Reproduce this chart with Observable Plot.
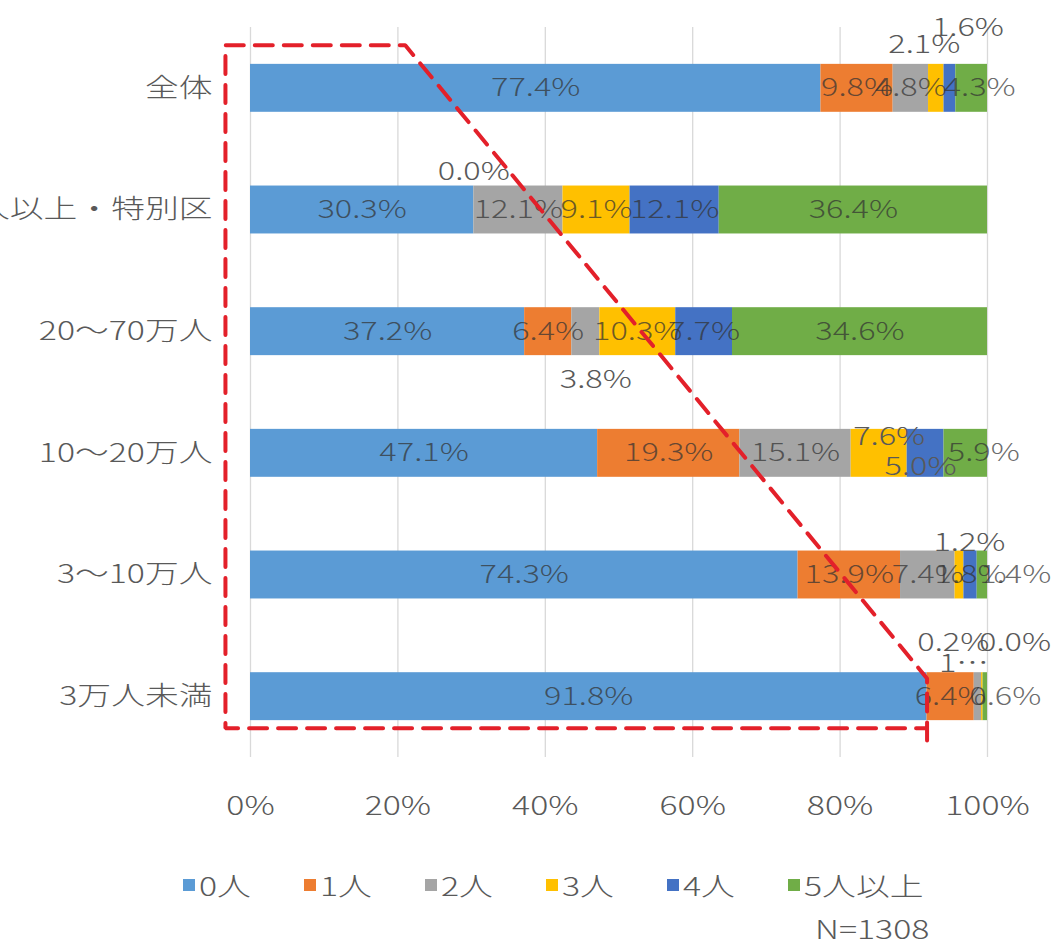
<!DOCTYPE html>
<html>
<head>
<meta charset="utf-8">
<script src="https://cdn.jsdelivr.net/npm/d3@7"></script>
<script src="https://cdn.jsdelivr.net/npm/@observablehq/plot@0.6"></script>
<style>
  body { margin: 0; background: #fff; font-family: "Noto Sans CJK JP", sans-serif; font-weight: 300; color: #595959; }
  #chart svg { display: block; }
  #legend { display: flex; margin-left: 183px; margin-top: 20px; height: 30px; line-height: 30px; font-size: 26px; }
  #legend .item { width: 121px; display: flex; align-items: center; white-space: nowrap; }
  #legend .sw { width: 12px; height: 12px; margin-right: 4px; flex: none; }
  #legend .lab, #note span { display: inline-block; transform: scaleX(1.3); transform-origin: left center; }
  #note { margin-left: 815px; height: 30px; line-height: 30px; font-size: 26px; margin-top: 13px; white-space: nowrap; }
</style>
</head>
<body>
<div id="chart"></div>
<div id="legend"></div>
<div id="note"><span>N=1308</span></div>
<script>
// Municipality size groups (top to bottom)
const categories = ["全体", "70万人以上・特別区", "20～70万人", "10～20万人", "3～10万人", "3万人未満"];
// Response categories (stack order, left to right)
const series = ["0人", "1人", "2人", "3人", "4人", "5人以上"];
const colors = ["#5B9BD5", "#ED7D31", "#A5A5A5", "#FFC000", "#4472C4", "#70AD47"];

// Share of respondents (%) per group, one array per response category
const persons0 = [77.4, 30.3, 37.2, 47.1, 74.3, 91.8];
const persons1 = [9.8, 0.0, 6.4, 19.3, 13.9, 6.4];
const persons2 = [4.8, 12.1, 3.8, 15.1, 7.4, 1.0];
const persons3 = [2.1, 9.1, 10.3, 7.6, 1.2, 0.2];
const persons4 = [1.6, 12.1, 7.7, 5.0, 1.8, 0.0];
const persons5plus = [4.3, 36.4, 34.6, 5.9, 1.4, 0.6];
const values = [persons0, persons1, persons2, persons3, persons4, persons5plus];

const xTicks = [0, 20, 40, 60, 80, 100];

// Hand-placed data labels for narrow segments: pixel offsets from segment centre
const labelNudges = {
  "0|3": {dx: -12, dy: -43},
  "0|4": {dx: 18, dy: -60},
  "0|5": {dx: 8},
  "1|1": {dy: -38},
  "2|2": {dx: 10, dy: 48},
  "3|3": {dx: 10, dy: -16},
  "3|4": {dx: -5, dy: 14},
  "3|5": {dx: 18},
  "4|3": {dx: 10, dy: -32},
  "4|5": {dx: 33},
  "5|2": {dx: -14, dy: -33, text: "1…"},
  "5|3": {dx: -29, dy: -54},
  "5|4": {dx: 32, dy: -54},
  "5|5": {dx: 20}
};

// Stacked segments
const rows = [];
categories.forEach((cat, i) => {
  let start = 0;
  series.forEach((s, j) => {
    const v = values[j][i];
    rows.push({cat, i, series: s, j, v, x1: start, x2: start + v});
    start += v;
  });
});

// Dashed outline highlighting the "0人" share: x in %, y in row units
const last = categories.length - 1;
const highlight = [
  {x: persons0[last], y: last + 0.36},
  {x: persons0[last], y: last - 0.15},
  {x: 21.0, y: -0.354},
  {x: -3.4, y: -0.354},
  {x: -3.4, y: last + 0.26},
  {x: persons0[last], y: last + 0.26}
];

const half = 0.197; // half bar thickness in row units

const labelMarks = rows.map(d => {
  const n = labelNudges[`${d.i}|${d.j}`] || {};
  const outside = n.dy !== undefined && n.dy !== 0;
  return Plot.text([d], {
    x: r => (r.x1 + r.x2) / 2,
    y: "i",
    text: r => n.text ?? `${r.v.toFixed(1)}%`,
    dx: n.dx ?? 0,
    dy: n.dy ?? 0,
    fontSize: 25,
    fontWeight: 300,
    fill: outside ? "#595959" : "#333",
    fillOpacity: outside ? 1 : 0.72
  });
});

const svg = Plot.plot({
  width: 1057,
  height: 850,
  marginLeft: 250,
  marginRight: 70,
  marginTop: 27,
  marginBottom: 93,
  style: {fontFamily: "'Noto Sans CJK JP', sans-serif", fontSize: "26px", fontWeight: 300, color: "#595959", background: "#fff"},
  x: {domain: [0, 100]},
  y: {domain: [-0.5, 5.5], reverse: true},
  color: {domain: series, range: colors},
  marks: [
    Plot.ruleX(xTicks, {stroke: "#d9d9d9", strokeWidth: 1.3}),
    Plot.rectX(rows, {x1: "x1", x2: "x2", y1: d => d.i - half, y2: d => d.i + half, fill: "series"}),
    ...labelMarks,
    Plot.line(highlight, {x: "x", y: "y", stroke: "#E3202A", strokeWidth: 4, strokeDasharray: "18,11", strokeLinejoin: "miter"}),
    Plot.axisX(xTicks, {tickFormat: d => `${d}%`, tickSize: 0, tickPadding: 39, label: null, fill: "#595959", fontSize: 26, fontWeight: 300}),
    Plot.axisY(d3.range(categories.length), {tickFormat: i => categories[i], tickSize: 0, tickPadding: 38, label: null, fill: "#595959", fontSize: 26, fontWeight: 300})
  ]
});

// Widen glyphs horizontally around each text anchor
d3.select(svg).selectAll("text").each(function () {
  const t = this.getAttribute("transform");
  if (t) {
    this.setAttribute("transform", `${t} scale(1.3,1)`);
  } else {
    const x = this.getAttribute("x") || 0, y = this.getAttribute("y") || 0;
    this.removeAttribute("x");
    this.removeAttribute("y");
    this.setAttribute("transform", `translate(${x},${y}) scale(1.3,1)`);
  }
});

document.getElementById("chart").appendChild(svg);

// Legend
const legend = d3.select("#legend");
series.forEach((s, j) => {
  const item = legend.append("div").attr("class", "item");
  item.append("div").attr("class", "sw").style("background", colors[j]);
  item.append("span").attr("class", "lab").text(s);
});
</script>
</body>
</html>
